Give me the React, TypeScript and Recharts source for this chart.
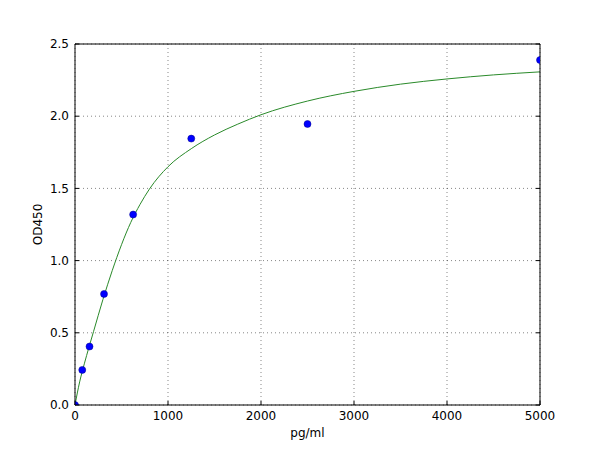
import {
    CartesianGrid,
    ComposedChart,
    Label,
    Line,
    Scatter,
    XAxis,
    YAxis,
} from "recharts";

// standards
const standardConc = [0, 78, 156, 312, 625, 1250, 2500, 5000];
const standardOd = [0.0, 0.243, 0.405, 0.769, 1.319, 1.845, 1.946, 2.389];

// fitted curve
const curveConc = [0, 50, 100, 150, 200, 300, 400, 500, 600, 700, 800, 1000, 1250, 1500, 1750, 2000, 2500, 3000, 3500, 4000, 4500, 5000];
const curveOd = [0, 0.16, 0.285, 0.4, 0.51, 0.73, 0.93, 1.11, 1.265, 1.39, 1.495, 1.65, 1.775, 1.87, 1.945, 2.01, 2.105, 2.172, 2.222, 2.258, 2.286, 2.307];

const xTicks = [0, 1000, 2000, 3000, 4000, 5000];
const yTicks = [0, 0.5, 1.0, 1.5, 2.0, 2.5];

const points = standardConc.map((c, i) => ({ conc: c, od: standardOd[i] }));
const curve = curveConc.map((c, i) => ({ conc: c, fit: curveOd[i] }));

const font = { fontFamily: "DejaVu Sans", fontSize: 12, fill: "#000" };
const GAP = 6; // label gap from the axis line
const TICK = 4; // inward tick length

const BottomTick = (props: any) => (
    <g>
        <line x1={props.x} x2={props.x} y1={props.y - GAP} y2={props.y - GAP - TICK} stroke="#000" />
        <text x={props.x} y={props.y} dy="0.71em" textAnchor="middle" {...font}>
            {props.payload.value}
        </text>
    </g>
);

const LeftTick = (props: any) => (
    <g>
        <line x1={props.x + GAP} x2={props.x + GAP + TICK} y1={props.y} y2={props.y} stroke="#000" />
        <text x={props.x} y={props.y} dy="0.355em" textAnchor="end" {...font}>
            {props.payload.value.toFixed(1)}
        </text>
    </g>
);

const TopTick = (props: any) => (
    <line x1={props.x} x2={props.x} y1={props.y} y2={props.y + TICK} stroke="#000" />
);

const RightTick = (props: any) => (
    <line x1={props.x} x2={props.x - TICK} y1={props.y} y2={props.y} stroke="#000" />
);

const Dot = (props: any) => (
    <circle cx={props.cx} cy={props.cy} r={3.5} fill="#0000ff" stroke="#00008b" strokeWidth={0.5} />
);

const App = () => {
    return (
        <div style={{ position: "absolute", left: 0, top: 0, background: "#fff" }}>
            <ComposedChart
                width={600}
                height={450}
                margin={{ top: 43, right: 59, left: 15, bottom: 0 }}
                style={{ fontFamily: "DejaVu Sans" }}
            >
                <CartesianGrid
                    xAxisId="main"
                    yAxisId="main"
                    stroke="#000"
                    strokeOpacity={0.6}
                    strokeDasharray="1 3"
                    strokeWidth={0.8}
                    verticalValues={xTicks}
                    horizontalValues={yTicks}
                />
                <XAxis
                    xAxisId="main"
                    dataKey="conc"
                    type="number"
                    domain={[0, 5000]}
                    ticks={xTicks}
                    allowDataOverflow
                    height={45}
                    tickSize={0}
                    tickMargin={GAP}
                    tickLine={false}
                    tick={BottomTick}
                    axisLine={{ stroke: "#000" }}
                >
                    <Label value="pg/ml" position="center" dy={5} style={font} />
                </XAxis>
                <XAxis
                    xAxisId="top"
                    orientation="top"
                    type="number"
                    domain={[0, 5000]}
                    ticks={xTicks}
                    allowDataOverflow
                    height={1}
                    tickSize={0}
                    tickMargin={0}
                    tickLine={false}
                    tick={TopTick}
                    axisLine={{ stroke: "#000" }}
                />
                <YAxis
                    yAxisId="main"
                    type="number"
                    domain={[0, 2.5]}
                    ticks={yTicks}
                    allowDataOverflow
                    width={60}
                    tickSize={0}
                    tickMargin={GAP}
                    tickLine={false}
                    tick={LeftTick}
                    axisLine={{ stroke: "#000" }}
                >
                    <Label value="OD450" angle={-90} position="center" dx={-7} style={font} />
                </YAxis>
                <YAxis
                    yAxisId="right"
                    orientation="right"
                    type="number"
                    domain={[0, 2.5]}
                    ticks={yTicks}
                    allowDataOverflow
                    width={1}
                    tickSize={0}
                    tickMargin={0}
                    tickLine={false}
                    tick={RightTick}
                    axisLine={{ stroke: "#000" }}
                />
                <Line
                    xAxisId="main"
                    yAxisId="main"
                    data={curve}
                    dataKey="fit"
                    type="monotone"
                    stroke="#2a8a2a"
                    strokeWidth={1}
                    dot={false}
                    activeDot={false}
                    isAnimationActive={false}
                />
                <Scatter
                    xAxisId="main"
                    yAxisId="main"
                    data={points}
                    dataKey="od"
                    shape={Dot}
                    isAnimationActive={false}
                />
            </ComposedChart>
        </div>
    );
};
export default App;
